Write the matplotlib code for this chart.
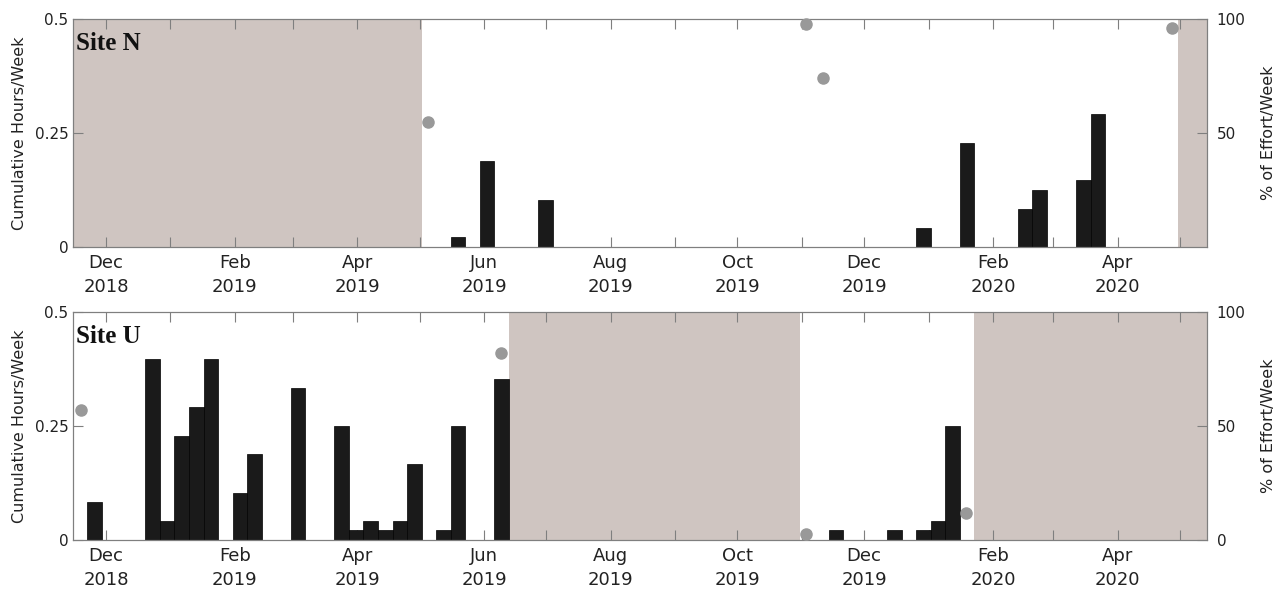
import numpy as np
import matplotlib
matplotlib.use('Agg')
import matplotlib.pyplot as plt
import matplotlib.dates as mdates

# weekly bins (start dates) and cumulative hours per week
top_weeks = ['2019-05-16', '2019-05-30', '2019-06-27', '2019-12-26', '2020-01-16',
             '2020-02-13', '2020-02-20', '2020-03-12', '2020-03-19']
top_hours = [0.021, 0.188, 0.104, 0.042, 0.229, 0.083, 0.125, 0.146, 0.292]
top_pct_dates = ['2019-05-05', '2019-11-03', '2019-11-11', '2020-04-27']
top_pct = [55, 98, 74, 96]
top_gaps = [('2018-11-01', '2019-05-02'), ('2020-04-30', '2020-06-01')]

bot_weeks = ['2018-11-22', '2018-12-20', '2018-12-27', '2019-01-03', '2019-01-10',
             '2019-01-17', '2019-01-31', '2019-02-07', '2019-02-28', '2019-03-21',
             '2019-03-28', '2019-04-04', '2019-04-11', '2019-04-18', '2019-04-25',
             '2019-05-09', '2019-05-16', '2019-06-06', '2019-11-14', '2019-12-12',
             '2019-12-26', '2020-01-02', '2020-01-09']
bot_hours = [0.083, 0.396, 0.042, 0.229, 0.292, 0.396, 0.104, 0.188, 0.333, 0.25,
             0.021, 0.042, 0.021, 0.042, 0.167, 0.021, 0.25, 0.354, 0.021, 0.021,
             0.021, 0.042, 0.25]
bot_pct_dates = ['2018-11-19', '2019-06-09', '2019-11-03', '2020-01-19']
bot_pct = [57, 82, 2.5, 12]
bot_gaps = [('2019-06-13', '2019-10-31'), ('2020-01-23', '2020-06-01')]

month_ticks = ['2018-12-01', '2019-01-01', '2019-02-01', '2019-03-01', '2019-04-01',
               '2019-05-01', '2019-06-01', '2019-07-01', '2019-08-01', '2019-09-01',
               '2019-10-01', '2019-11-01', '2019-12-01', '2020-01-01', '2020-02-01',
               '2020-03-01', '2020-04-01', '2020-05-01']
month_labels = ['Dec\n2018', '', 'Feb\n2019', '', 'Apr\n2019', '', 'Jun\n2019', '',
                'Aug\n2019', '', 'Oct\n2019', '', 'Dec\n2019', '', 'Feb\n2020', '',
                'Apr\n2020', '']

def d(lst):
    return mdates.date2num(np.array(lst, dtype='datetime64[D]'))

xmin, xmax = d(['2018-11-15', '2020-05-14'])
shade = '#cfc5c1'
axcol = '#7f7f7f'
txtcol = '#222222'

fig = plt.figure(figsize=(12.86, 5.95), dpi=100)

def panel(rect, weeks, hours, pdates, pct, gaps, name, right_ticks):
    ax = fig.add_axes(rect)
    for a, b in gaps:
        lo, hi = d([a, b])
        ax.axvspan(lo, hi, color=shade, lw=0, zorder=0)
    ax.bar(d(weeks), hours, width=7, align='edge', color='#1a1a1a',
           edgecolor='#000000', linewidth=0.5, zorder=2)
    ax.set_xlim(xmin, xmax)
    ax.set_ylim(0, 0.5)
    ax.set_yticks([0, 0.25, 0.5])
    ax.set_yticklabels(['0', '0.25', '0.5'])
    ax.set_xticks(d(month_ticks))
    ax.set_xticklabels(month_labels, linespacing=1.45)
    ax.tick_params(axis='x', direction='in', length=7, top=True, color=axcol,
                   labelsize=13, labelcolor=txtcol, pad=5)
    ax.tick_params(axis='y', direction='in', length=7, color=axcol,
                   labelsize=11, labelcolor=txtcol, pad=3)
    for s in ax.spines.values():
        s.set_color(axcol)
    ax.set_ylabel('Cumulative Hours/Week', fontsize=11.5, color=txtcol)
    ax.yaxis.set_label_coords(-0.040, 0.5)
    ax.text(0.003, 0.864, name, transform=ax.transAxes, fontsize=18,
            fontweight='bold', family='Liberation Serif', va='baseline', color='#111111')

    ax2 = ax.twinx()
    ax2.plot(d(pdates), pct, 'o', color='#999999', markersize=8, clip_on=False, zorder=3)
    ax2.set_ylim(0, 100)
    ax2.set_yticks(right_ticks)
    ax2.tick_params(axis='y', direction='in', length=7, color=axcol,
                    labelsize=11, labelcolor=txtcol, pad=7)
    for s in ax2.spines.values():
        s.set_color(axcol)
    ax2.set_ylabel('% of Effort/Week', fontsize=11.5, color=txtcol)
    ax2.yaxis.set_label_coords(1.048, 0.5)
    return ax, ax2

panel([0.0565, 0.5849, 0.882, 0.3832], top_weeks, top_hours, top_pct_dates, top_pct,
      top_gaps, 'Site N', [50, 100])
panel([0.0565, 0.0924, 0.882, 0.3832], bot_weeks, bot_hours, bot_pct_dates, bot_pct,
      bot_gaps, 'Site U', [0, 50, 100])

fig.savefig('out.png', dpi=100)
